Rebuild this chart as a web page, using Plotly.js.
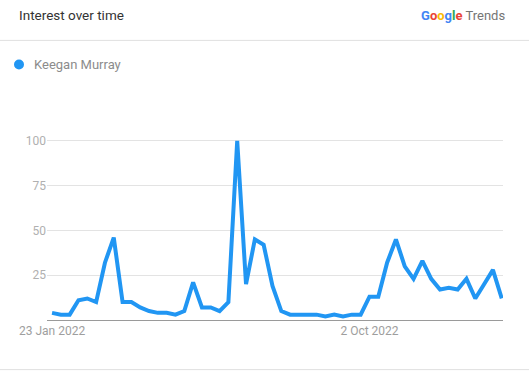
<!DOCTYPE html>
<html>
<head>
<meta charset="utf-8">
<script src="https://cdn.plot.ly/plotly-3.0.1.min.js"></script>
<style>
  html, body { margin: 0; padding: 0; background: #ffffff; }
  #chart { width: 529px; height: 373px; }
</style>
</head>
<body>
<div id="chart"></div>
<script>
// Weekly search interest for "Keegan Murray", Jan 2022 - Jan 2023
const weeks = [
  '2022-01-23','2022-01-30','2022-02-06','2022-02-13','2022-02-20','2022-02-27',
  '2022-03-06','2022-03-13','2022-03-20','2022-03-27','2022-04-03','2022-04-10',
  '2022-04-17','2022-04-24','2022-05-01','2022-05-08','2022-05-15','2022-05-22',
  '2022-05-29','2022-06-05','2022-06-12','2022-06-19','2022-06-26','2022-07-03',
  '2022-07-10','2022-07-17','2022-07-24','2022-07-31','2022-08-07','2022-08-14',
  '2022-08-21','2022-08-28','2022-09-04','2022-09-11','2022-09-18','2022-09-25',
  '2022-10-02','2022-10-09','2022-10-16','2022-10-23','2022-10-30','2022-11-06',
  '2022-11-13','2022-11-20','2022-11-27','2022-12-04','2022-12-11','2022-12-18',
  '2022-12-25','2023-01-01','2023-01-08','2023-01-15'
];
const interest = [
  4, 3, 3, 11, 12, 10, 32, 46, 10, 10, 7, 5,
  4, 4, 3, 5, 21, 7, 7, 5, 10, 100, 20, 45,
  42, 19, 5, 3, 3, 3, 3, 2, 3, 2, 3, 3,
  13, 13, 32, 45, 30, 23, 33, 23, 17, 18, 17, 23,
  12, 20, 28, 12
];
const seriesName = 'Keegan Murray';
const yTicks = [25, 50, 75, 100];
const xTickDates = ['2022-01-23', '2022-10-02'];
const xTickLabels = ['23 Jan 2022', '2 Oct 2022'];

// Plot area in pixels: left 47, right 503, top 132.4, bottom 320
const W = 529, H = 373;
const L = 47, R = 503, T = 132.4, B = 320;
const px = v => (v - L) / (R - L);
const py = v => (B - v) / (B - T);

const blue = '#2196f3';
const font = 'Roboto, Arial, sans-serif';

const trace = {
  x: weeks,
  y: interest,
  type: 'scatter',
  mode: 'lines',
  name: seriesName,
  line: { color: blue, width: 4, shape: 'linear' },
  hoverinfo: 'x+y'
};

const googleWord =
  '<b>' +
  '<span style="color:#4285f4">G</span>' +
  '<span style="color:#ea4335">o</span>' +
  '<span style="color:#fbbc05">o</span>' +
  '<span style="color:#4285f4">g</span>' +
  '<span style="color:#34a853">l</span>' +
  '<span style="color:#ea4335">e</span>' +
  '</b>';

const layout = {
  width: W,
  height: H,
  margin: { l: L, r: W - R, t: T, b: H - B, pad: 0 },
  paper_bgcolor: '#ffffff',
  plot_bgcolor: '#ffffff',
  showlegend: false,
  font: { family: font },
  xaxis: {
    type: 'date',
    range: ['2022-01-19', '2023-01-16'],
    tickvals: xTickDates,
    ticktext: xTickLabels,
    tickfont: { family: font, size: 12, color: '#9e9e9e' },
    showgrid: false,
    zeroline: false,
    showline: true,
    linecolor: '#9a9a9a',
    linewidth: 1,
    ticks: '',
    fixedrange: true
  },
  yaxis: {
    range: [0, 105],
    tickvals: yTicks,
    tickfont: { family: font, size: 12, color: '#b0b0b0' },
    showgrid: true,
    gridcolor: '#e3e3e3',
    gridwidth: 1,
    zeroline: false,
    showline: false,
    ticks: '',
    fixedrange: true
  },
  shapes: [
    { type: 'line', xref: 'paper', yref: 'paper',
      x0: px(0), x1: px(W), y0: py(41), y1: py(41),
      line: { color: '#e0e0e0', width: 1 } },
    { type: 'line', xref: 'paper', yref: 'paper',
      x0: px(0), x1: px(W), y0: py(369.5), y1: py(369.5),
      line: { color: '#e0e0e0', width: 1 } },
    { type: 'circle', xref: 'paper', yref: 'paper',
      x0: px(14), x1: px(24), y0: py(70), y1: py(60),
      fillcolor: blue, line: { color: blue, width: 0 } }
  ],
  annotations: [
    { xref: 'paper', yref: 'paper', x: px(17), y: py(16),
      xanchor: 'left', yanchor: 'middle', showarrow: false,
      text: 'Interest over time',
      font: { family: font, size: 13.5, color: '#333333' } },
    { xref: 'paper', yref: 'paper', x: px(507), y: py(16.5),
      xanchor: 'right', yanchor: 'middle', showarrow: false,
      text: googleWord + ' <span style="color:#757575">Trends</span>',
      font: { family: font, size: 13, color: '#757575' } },
    { xref: 'paper', yref: 'paper', x: px(32), y: py(65),
      xanchor: 'left', yanchor: 'middle', showarrow: false,
      text: seriesName,
      font: { family: font, size: 13, color: '#8c8c8c' } }
  ]
};

Plotly.newPlot('chart', [trace], layout, { displayModeBar: false, staticPlot: true });
</script>
</body>
</html>
